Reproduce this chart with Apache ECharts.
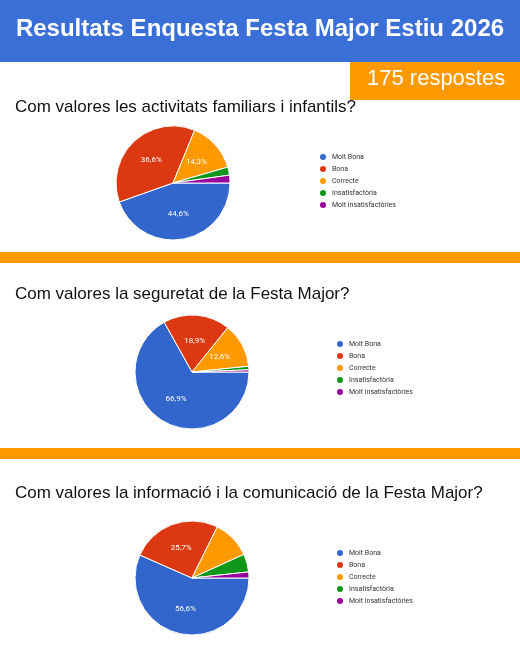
<!DOCTYPE html><html><head><meta charset="utf-8"><script src="https://cdn.jsdelivr.net/npm/echarts@6/dist/echarts.min.js"></script>
<style>body{margin:0}#c{width:520px;height:650px}</style></head><body><div id="c"></div><script>
const categories=['Molt Bona','Bona','Correcte','Insatisfactòria','Molt insatisfactòries'];
const familiars=[44.6,36.6,14.3,2.3,2.2];
const seguretat=[66.9,18.9,12.6,1.0,0.6];
const informacio=[56.6,25.7,10.9,5.1,1.7];
const questions=['Com valores les activitats familiars i infantils?','Com valores la seguretat de la Festa Major?','Com valores la informació i la comunicació de la Festa Major?'];
const colors=['#3366cc','#dc3912','#ff9900','#109618','#990099'];
const chart=echarts.init(document.getElementById('c'));
const sets=[familiars,seguretat,informacio];
const centers=[[173,183],[192,372],[192,578]];
const legendTops=[147,334,543];
const legendLefts=[313,330,330];
const qTops=[99,286,485];
const series=sets.map((d,i)=>({type:'pie',radius:57,center:centers[i],startAngle:0,clockwise:true,
 data:d.map((v,j)=>({name:categories[j],value:v})),
 itemStyle:{borderColor:'#fff',borderWidth:1},
 label:{position:'inside',color:'#fff',fontSize:8,fontFamily:'Roboto',formatter:p=>p.value>=12?String(p.value).replace('.',',')+'%':''},
 labelLine:{show:false},emphasis:{disabled:true},silent:true}));
chart.setOption({color:colors,animation:false,
 legend:sets.map((d,i)=>({orient:'vertical',left:legendLefts[i],top:legendTops[i],itemWidth:8,itemHeight:8,itemGap:2,icon:'circle',
   textStyle:{fontSize:7,color:'#333',fontFamily:'Roboto'},data:categories,selectedMode:false})),
 graphic:[
  {type:'rect',shape:{x:0,y:0,width:520,height:62},style:{fill:'#3a6fd8'}},
  {type:'text',left:'center',top:17,style:{text:'Resultats Enquesta Festa Major Estiu 2026',fill:'#fff',font:'bold 24px "Liberation Sans", Arial'}},
  {type:'rect',shape:{x:350,y:62,width:170,height:38},style:{fill:'#ff9900'}},
  {type:'text',x:367,y:68,style:{text:'175 respostes',fill:'#fff',font:'22px "Liberation Sans", Arial'}},
  {type:'rect',shape:{x:0,y:252,width:520,height:11},style:{fill:'#ff9900'}},
  {type:'rect',shape:{x:0,y:448,width:520,height:11},style:{fill:'#ff9900'}},
  ...questions.map((q,i)=>({type:'text',x:15,y:qTops[i],style:{text:q,fill:'#111',font:'17px "Liberation Sans", Arial'}}))
 ],
 series});
</script></body></html>
